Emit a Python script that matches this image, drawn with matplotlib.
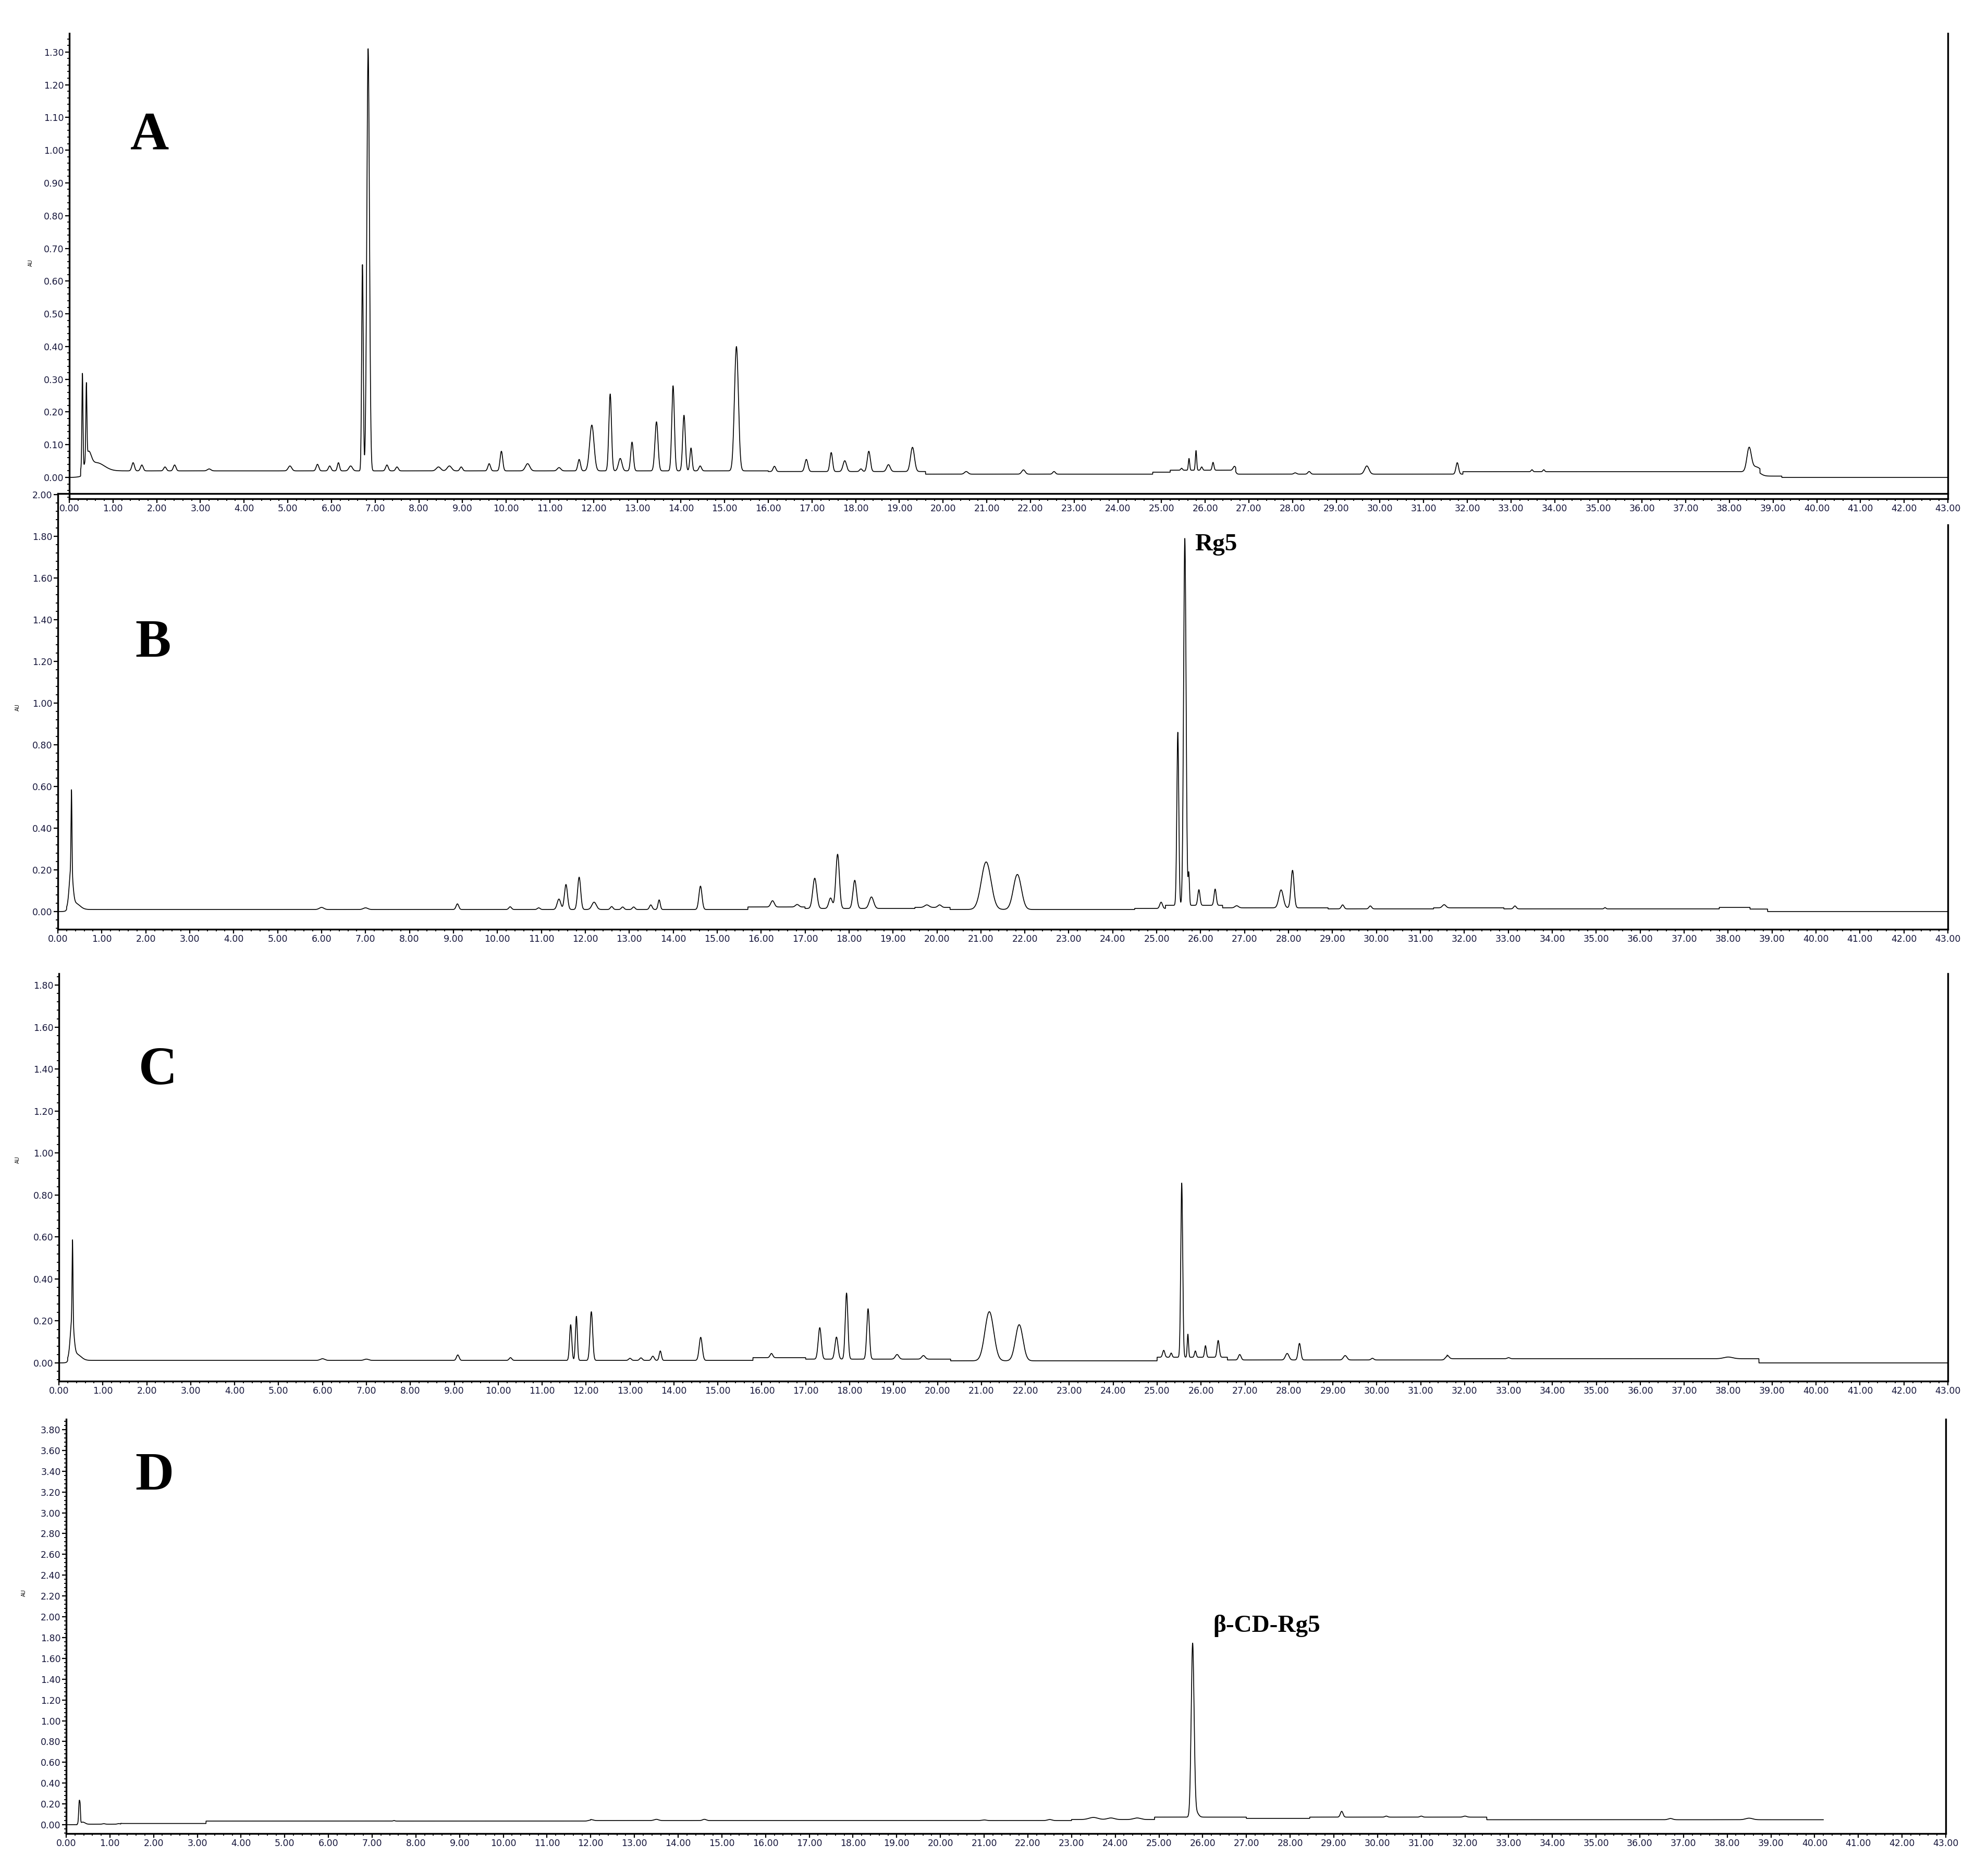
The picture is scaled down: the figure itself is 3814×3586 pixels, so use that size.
import numpy as np
import matplotlib
matplotlib.use("Agg")
import matplotlib.pyplot as plt
from matplotlib.ticker import MultipleLocator, FormatStrFormatter

# retention time (min), peak height above baseline (AU), peak sigma (min)
peaks_A = [(0.30, 0.29, 0.012), (0.39, 0.227, 0.012), (0.44, 0.045, 0.06), (0.62, 0.025, 0.18),
           (1.46, 0.025, 0.03), (1.66, 0.018, 0.03), (2.19, 0.012, 0.03), (2.41, 0.018, 0.03),
           (3.20, 0.006, 0.04), (5.05, 0.015, 0.04), (5.68, 0.02, 0.03), (5.96, 0.015, 0.03),
           (6.16, 0.025, 0.025), (6.44, 0.015, 0.04), (6.71, 0.63, 0.018), (6.84, 1.29, 0.03),
           (7.27, 0.018, 0.03), (7.50, 0.012, 0.03), (8.45, 0.012, 0.05), (8.70, 0.015, 0.05),
           (8.97, 0.012, 0.03), (9.61, 0.022, 0.03), (9.89, 0.06, 0.03), (10.49, 0.022, 0.05),
           (11.21, 0.01, 0.04), (11.67, 0.035, 0.03), (11.96, 0.14, 0.05), (12.38, 0.235, 0.03),
           (12.61, 0.038, 0.04), (12.88, 0.088, 0.03), (13.44, 0.15, 0.035), (13.82, 0.26, 0.03),
           (14.07, 0.17, 0.03), (14.23, 0.07, 0.025), (14.44, 0.015, 0.03), (15.27, 0.38, 0.045),
           (16.14, 0.016, 0.03), (16.87, 0.037, 0.035), (17.44, 0.058, 0.03), (17.75, 0.033, 0.04),
           (18.12, 0.008, 0.03), (18.30, 0.062, 0.035), (18.75, 0.021, 0.04), (19.30, 0.074, 0.045),
           (20.53, 0.008, 0.04), (21.84, 0.013, 0.04), (22.54, 0.008, 0.03), (25.46, 0.006, 0.02),
           (25.63, 0.036, 0.015), (25.79, 0.06, 0.015), (25.92, 0.01, 0.02), (26.18, 0.024, 0.02),
           (26.67, 0.012, 0.03), (28.06, 0.004, 0.03), (28.38, 0.008, 0.03), (29.70, 0.025, 0.05),
           (31.77, 0.035, 0.03), (33.48, 0.006, 0.02), (33.75, 0.006, 0.02), (38.45, 0.07, 0.05),
           (38.60, 0.015, 0.1)]
base_A_t = [0, 0.26, 16.0, 19.6, 24.8, 25.2, 26.7, 31.9, 38.7, 39.2]
base_A_v = [0.0, 0.02, 0.018, 0.01, 0.016, 0.022, 0.01, 0.0175, 0.004, 0.0]

peaks_B = [(0.30, 0.18, 0.04), (0.31, 0.38, 0.01), (0.40, 0.03, 0.1),
           (6.0, 0.01, 0.05), (7.0, 0.008, 0.05), (9.09, 0.027, 0.03), (10.29, 0.013, 0.03),
           (10.94, 0.008, 0.03), (11.40, 0.05, 0.04), (11.56, 0.12, 0.035), (11.86, 0.155, 0.035),
           (12.20, 0.035, 0.05), (12.60, 0.014, 0.03), (12.85, 0.012, 0.03), (13.10, 0.012, 0.03),
           (13.49, 0.022, 0.03), (13.68, 0.046, 0.025), (14.62, 0.112, 0.035), (16.26, 0.03, 0.04),
           (16.82, 0.012, 0.04), (17.22, 0.145, 0.045), (17.58, 0.05, 0.04), (17.74, 0.26, 0.04),
           (18.13, 0.135, 0.04), (18.51, 0.055, 0.05), (19.77, 0.012, 0.05), (20.06, 0.012, 0.04),
           (21.12, 0.228, 0.11), (21.83, 0.168, 0.09), (25.10, 0.03, 0.03), (25.48, 0.83, 0.022),
           (25.64, 1.76, 0.028), (25.73, 0.15, 0.015), (25.96, 0.075, 0.025), (26.33, 0.078, 0.025),
           (26.82, 0.01, 0.04), (27.83, 0.086, 0.05), (28.09, 0.18, 0.035), (29.23, 0.019, 0.03),
           (29.86, 0.014, 0.03), (31.54, 0.015, 0.04), (33.15, 0.014, 0.03), (35.20, 0.006, 0.02)]
base_B_t = [0, 0.2, 15.7, 17.0, 19.5, 20.3, 24.5, 25.2, 26.5, 28.9, 31.3, 32.9, 37.8, 38.5, 38.9]
base_B_v = [0.0, 0.01, 0.022, 0.015, 0.02, 0.01, 0.015, 0.03, 0.018, 0.013, 0.018, 0.013, 0.02, 0.012, 0.0]

peaks_C = [(0.30, 0.18, 0.04), (0.31, 0.38, 0.01), (0.40, 0.03, 0.1),
           (6.0, 0.008, 0.05), (7.0, 0.006, 0.05), (9.08, 0.026, 0.03), (10.28, 0.013, 0.03),
           (11.65, 0.17, 0.025), (11.78, 0.21, 0.022), (12.12, 0.232, 0.03), (13.0, 0.01, 0.03),
           (13.25, 0.012, 0.03), (13.52, 0.02, 0.03), (13.69, 0.045, 0.025), (14.61, 0.11, 0.035),
           (16.22, 0.02, 0.03), (17.32, 0.15, 0.035), (17.70, 0.105, 0.035), (17.93, 0.315, 0.03),
           (18.42, 0.24, 0.03), (19.08, 0.022, 0.04), (19.68, 0.017, 0.04), (21.18, 0.234, 0.1),
           (21.86, 0.172, 0.085), (25.15, 0.033, 0.025), (25.32, 0.02, 0.02), (25.56, 0.83, 0.022),
           (25.70, 0.11, 0.015), (25.87, 0.03, 0.02), (26.10, 0.055, 0.02), (26.39, 0.08, 0.025),
           (26.88, 0.026, 0.03), (27.96, 0.031, 0.04), (28.24, 0.079, 0.03), (29.28, 0.021, 0.04),
           (29.90, 0.008, 0.03), (31.60, 0.017, 0.04), (33.0, 0.005, 0.03), (38.0, 0.008, 0.1)]
base_C_t = [0, 0.2, 15.8, 17.0, 20.3, 25.0, 26.6, 31.6, 38.7]
base_C_v = [0.0, 0.012, 0.025, 0.018, 0.01, 0.027, 0.014, 0.02, 0.0]

peaks_D = [(0.30, 0.22, 0.014), (0.32, 0.1, 0.008), (0.38, 0.02, 0.05),
           (0.86, 0.005, 0.03), (1.20, 0.006, 0.03), (7.50, 0.005, 0.02), (12.0, 0.01, 0.05),
           (13.5, 0.012, 0.05), (14.6, 0.012, 0.04), (21.0, 0.006, 0.05), (22.5, 0.01, 0.05),
           (23.5, 0.02, 0.1), (23.9, 0.015, 0.08), (24.5, 0.015, 0.08), (25.77, 1.66, 0.033),
           (25.85, 0.05, 0.05), (29.18, 0.056, 0.03), (30.2, 0.01, 0.03), (31.0, 0.01, 0.03),
           (32.0, 0.01, 0.04), (36.7, 0.012, 0.05), (38.5, 0.015, 0.08)]
base_D_t = [0, 0.25, 1.25, 3.2, 12.0, 23.0, 24.9, 27.0, 28.45, 32.5]
base_D_v = [0.0, 0.005, 0.012, 0.035, 0.04, 0.05, 0.073, 0.061, 0.073, 0.048]

W, H = 3814, 3586


def trace(t, base_t, base_v, peaks):
    y = np.array(base_v)[np.searchsorted(base_t, t, side="right") - 1]
    for c, h, s in peaks:
        y = y + h * np.exp(-0.5 * ((t - c) / s) ** 2)
    return y


def make_axes(fig, left, top, right, bottom):
    return fig.add_axes([left / W, 1 - bottom / H, (right - left) / W, (bottom - top) / H])


fig = plt.figure(figsize=(W / 100, H / 100), dpi=100)

panels = [
    # name, box px, ylim, major, minor, peaks, baseline, tend, top spine
    ("A", (133, 64, 3737, 957), (-0.0653, 1.357), 0.1, 0.02, peaks_A, base_A_t, base_A_v, 43.0, False),
    ("B", (111, 947, 3737, 1783), (-0.085, 2.005), 0.2, 0.04, peaks_B, base_B_t, base_B_v, 43.0, True),
    ("C", (113, 1868, 3737, 2650), (-0.087, 1.855), 0.2, 0.04, peaks_C, base_C_t, base_C_v, 43.0, False),
    ("D", (127, 2723, 3733, 3518), (-0.085, 3.90), 0.2, 0.04, peaks_D, base_D_t, base_D_v, 40.2, False),
]
letter_pos = {"A": (287, 287), "B": (294, 1260), "C": (303, 2080), "D": (296, 2858)}
au_pos = {"A": (59, 504), "B": (34, 1357), "C": (34, 2225), "D": (46, 3056)}

for name, box, ylim, maj, mnr, pk, bt, bv, tend, topspine in panels:
    ax = make_axes(fig, *box)
    ax.set_facecolor("none")  # panels overlap, keep the tick labels of the one above visible
    t = np.arange(0, tend, 0.002)
    ax.plot(t, trace(t, bt, bv, pk), color="black", lw=1.2)
    ax.set_xlim(0, 43)
    ax.set_ylim(*ylim)
    ax.xaxis.set_major_locator(MultipleLocator(1))
    ax.xaxis.set_minor_locator(MultipleLocator(0.2))
    ax.yaxis.set_major_locator(MultipleLocator(maj))
    ax.yaxis.set_minor_locator(MultipleLocator(mnr))
    ax.xaxis.set_major_formatter(FormatStrFormatter("%.2f"))
    ax.yaxis.set_major_formatter(FormatStrFormatter("%.2f"))
    ax.tick_params(which="major", direction="out", length=6, width=1.6, pad=1.5,
                   labelsize=12.5, labelcolor="#15153a", right=False, top=False)
    ax.tick_params(which="minor", direction="out", length=3, width=1.3, right=False, top=False)
    for s in ax.spines.values():
        s.set_linewidth(2.4)
    ax.spines["top"].set_visible(topspine)
    if name == "B":
        ax.spines["right"].set_bounds(ylim[0], 1.855)
    lx, ly = letter_pos[name]
    fig.text(lx / W, 1 - ly / H, name, ha="center", va="baseline",
             family="Liberation Serif", weight="bold", fontsize=74)
    ax_x, ax_y = au_pos[name]
    fig.text(ax_x / W, 1 - ax_y / H, "AU", rotation=90, ha="center", va="center", fontsize=7)

fig.text(2292 / W, 1 - 1056 / H, "Rg5", ha="left", va="baseline",
         family="Liberation Serif", weight="bold", fontsize=34)
fig.text(2327 / W, 1 - 3131 / H, "β-CD-Rg5", ha="left", va="baseline",
         family="Liberation Serif", weight="bold", fontsize=34)

fig.savefig("out.png", dpi=100, facecolor="white")
